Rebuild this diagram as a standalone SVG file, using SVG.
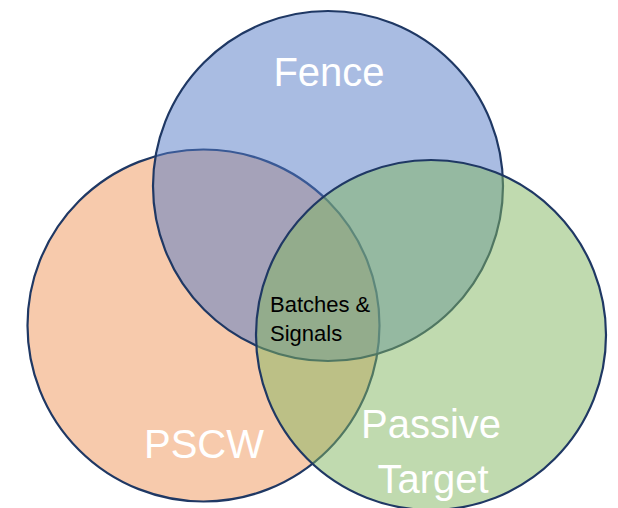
<svg xmlns="http://www.w3.org/2000/svg" width="618" height="508" viewBox="0 0 618 508">
  <style>
    .set { fill-opacity: 0.5; stroke: #1F3864; stroke-width: 2.2; }
    .big { font-family: "Liberation Sans", Arial, sans-serif; font-size: 40px; fill: #ffffff; text-anchor: middle; }
    .mid { font-family: "Liberation Sans", Arial, sans-serif; font-size: 22px; fill: #000000; }
  </style>
  <rect width="618" height="508" fill="#ffffff"/>
  <g id="pscw">
    <circle class="set" cx="203.5" cy="325.5" r="176" fill="#EF9559"/>
    <text class="big" x="204" y="458">PSCW</text>
  </g>
  <g id="fence">
    <circle class="set" cx="328" cy="186" r="175" fill="#5379C5"/>
    <text class="big" x="329" y="86">Fence</text>
  </g>
  <g id="passive-target">
    <circle class="set" cx="431" cy="335" r="175" fill="#81B55F"/>
    <text class="big" x="431" y="438">Passive</text>
    <text class="big" x="433" y="493">Target</text>
  </g>
  <g id="batches-signals">
    <text class="mid" x="270" y="312">Batches &amp;</text>
    <text class="mid" x="270" y="341">Signals</text>
  </g>
  <g id="connectors"/>
</svg>
